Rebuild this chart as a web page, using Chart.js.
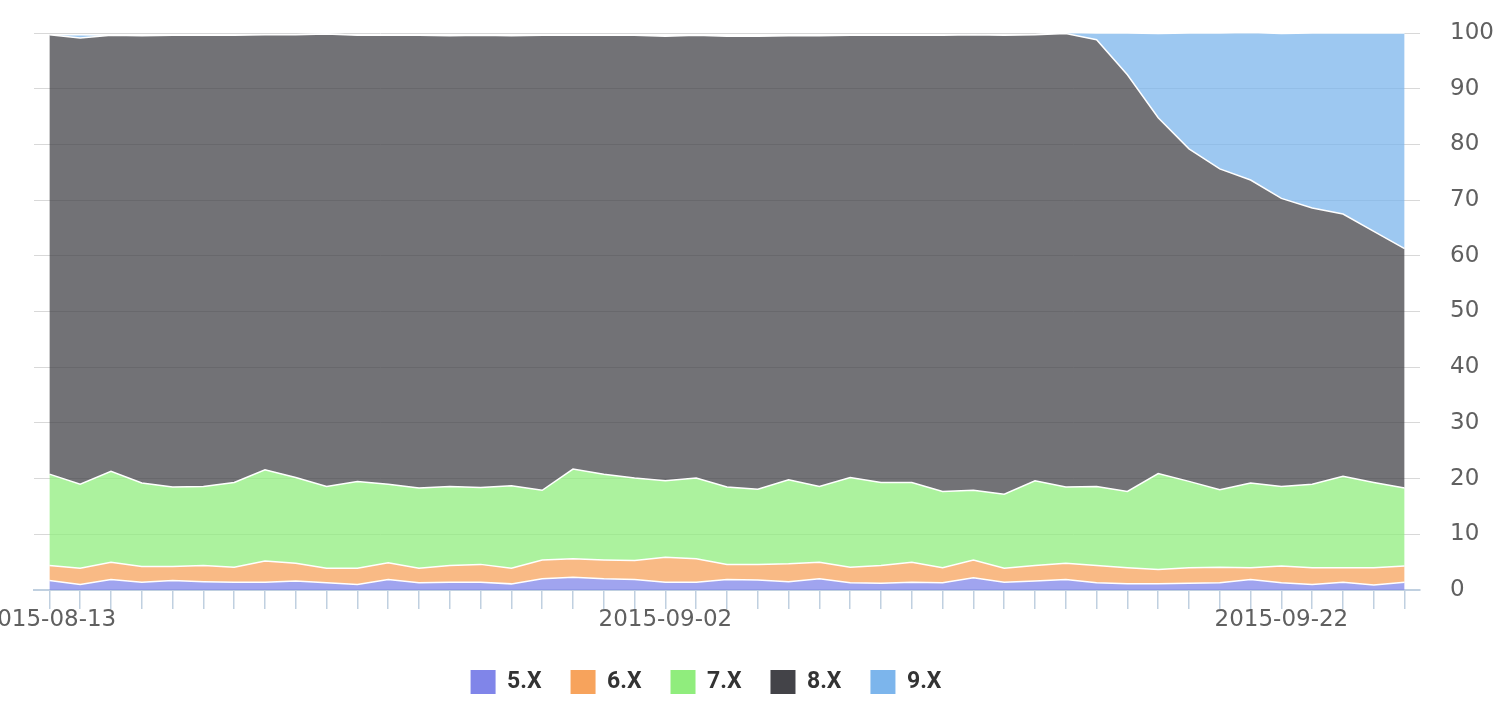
<!DOCTYPE html>
<html>
<head>
<meta charset="utf-8">
<script src="https://cdn.jsdelivr.net/npm/chart.js@4/dist/chart.umd.min.js"></script>
<style>
html,body{margin:0;padding:0;background:#ffffff;overflow:hidden;}
canvas{display:block;}
</style>
</head>
<body>
<canvas id="c" width="1508" height="708"></canvas>
<script>
// ---------- data ----------
const categories = [
  '2015-08-13','2015-08-14','2015-08-15','2015-08-16','2015-08-17','2015-08-18','2015-08-19','2015-08-20','2015-08-21','2015-08-22',
  '2015-08-23','2015-08-24','2015-08-25','2015-08-26','2015-08-27','2015-08-28','2015-08-29','2015-08-30','2015-08-31','2015-09-01',
  '2015-09-02','2015-09-03','2015-09-04','2015-09-05','2015-09-06','2015-09-07','2015-09-08','2015-09-09','2015-09-10','2015-09-11',
  '2015-09-12','2015-09-13','2015-09-14','2015-09-15','2015-09-16','2015-09-17','2015-09-18','2015-09-19','2015-09-20','2015-09-21',
  '2015-09-22','2015-09-23','2015-09-24','2015-09-25','2015-09-26'
];
const shownTickLabels = ['2015-08-13','2015-09-02','2015-09-22'];
const seriesNames = ['5.X','6.X','7.X','8.X','9.X'];

const v5x = [1.7,1.0,1.9,1.4,1.7,1.5,1.4,1.4,1.6,1.3, 1.0,1.9,1.3,1.4,1.4,1.1,2.0,2.3,2.0,1.9,
             1.4,1.4,1.9,1.8,1.5,2.0,1.3,1.2,1.4,1.3, 2.2,1.4,1.6,1.9,1.3,1.1,1.1,1.2,1.3,1.9,
             1.3,1.0,1.4,0.9,1.4];
const v6x = [2.7,2.9,3.1,2.8,2.5,2.9,2.7,3.8,3.2,2.6, 2.9,3.0,2.6,3.0,3.2,2.8,3.4,3.3,3.4,3.4,
             4.5,4.2,2.7,2.8,3.2,3.0,2.8,3.2,3.6,2.7, 3.2,2.5,2.8,2.9,3.1,2.9,2.6,2.8,2.8,2.1,
             3.0,3.0,2.6,3.1,2.9];
const v7x = [16.4,15.1,16.3,15.0,14.3,14.2,15.2,16.4,15.4,14.7, 15.6,14.1,14.4,14.2,13.8,14.8,12.5,16.1,15.4,14.8,
             13.7,14.5,13.9,13.5,15.1,13.6,16.1,14.9,14.3,13.7, 12.5,13.3,15.2,13.7,14.2,13.7,17.2,15.5,13.9,15.2,
             14.3,15.0,16.4,15.3,14.0];
const v8x = [78.9,80.1,78.3,80.3,81.1,81.0,80.3,78.1,79.5,81.2, 80.1,80.6,81.3,80.9,81.2,80.8,81.7,77.9,78.8,79.5,
             79.8,79.5,80.9,81.3,79.7,80.9,79.4,80.3,80.3,81.9, 81.8,82.4,80.1,81.4,80.2,74.8,63.9,59.7,57.6,54.4,
             51.7,49.6,47.1,45.1,43.0];
const v9x = [0,0.6,0,0,0,0,0,0,0,0, 0,0,0,0,0,0,0,0,0,0,
             0,0,0,0,0,0,0,0,0,0, 0,0,0,0.2,1.2,7.5,15.1,20.8,24.4,26.5,
             29.6,31.4,32.5,35.6,38.7];
const seriesValues = [v5x, v6x, v7x, v8x, v9x];

// ---------- styles ----------
const seriesColors = ['#8085e9','#f7a35c','#90ed7d','#434348','#7cb5ec'];
const fillColors = ['rgba(128,133,233,0.75)','rgba(247,163,92,0.75)','rgba(144,237,125,0.75)',
                    'rgba(67,67,72,0.75)','rgba(124,181,236,0.75)'];

const W = 1508, H = 708;
const PLOT_TOP = 33, PLOT_LEFT = 34, PLOT_RIGHT = 1420, PLOT_BOTTOM = 590;
const AXIS_FONT = "'DejaVu Sans', sans-serif";
const LEG_FONT = "Roboto, 'Liberation Sans', sans-serif";
const LEG_FONT_SIZE = 23, LEG_BOX_W = 25, LEG_BOX_H = 24;
const LEG_PAD = 29, LEG_BOX_TOP = 670, LEGEND_CENTER_X = 706;
const X_AXIS_H = LEG_BOX_TOP - LEG_PAD - PLOT_BOTTOM;
const LEG_H = Math.max(LEG_FONT_SIZE, LEG_BOX_H) + LEG_PAD + 10;
const PAD_BOTTOM = H - PLOT_BOTTOM - X_AXIS_H - LEG_H;

const datasets = seriesNames.map((name, i) => ({
  label: name,
  data: seriesValues[i],
  backgroundColor: fillColors[i],
  borderColor: '#ffffff',
  borderWidth: 1.5,
  fill: i === 0 ? 'origin' : '-1',
  pointRadius: 0,
  pointHoverRadius: 0,
  tension: 0
}));

const legendShift = {
  id: 'legendShift',
  afterLayout(chart) {
    const lg = chart.legend;
    if (!lg) return;
    const d = LEGEND_CENTER_X - (lg.left + lg.right) / 2;
    lg.left += d; lg.right += d;
  }
};

new Chart(document.getElementById('c'), {
  type: 'line',
  data: { labels: categories, datasets },
  plugins: [legendShift],
  options: {
    responsive: false,
    animation: false,
    layout: { padding: { top: PLOT_TOP, left: PLOT_LEFT, right: 0, bottom: PAD_BOTTOM } },
    plugins: {
      tooltip: { enabled: false },
      legend: {
        position: 'bottom',
        labels: {
          boxWidth: LEG_BOX_W,
          boxHeight: LEG_BOX_H,
          padding: LEG_PAD,
          color: '#333333',
          font: { family: LEG_FONT, size: LEG_FONT_SIZE, weight: 'bold' },
          generateLabels: (chart) => chart.data.datasets.map((ds, i) => ({
            text: ds.label,
            fillStyle: seriesColors[i],
            strokeStyle: seriesColors[i],
            lineWidth: 0,
            hidden: false,
            datasetIndex: i,
            fontColor: '#333333'
          }))
        }
      }
    },
    scales: {
      x: {
        type: 'category',
        offset: true,
        grid: { display: true, drawOnChartArea: false, drawTicks: true, tickLength: 19,
                color: '#C0D0E0', tickColor: '#C0D0E0', lineWidth: 1.5, offset: false },
        border: { display: true, color: '#C0D0E0', width: 2 },
        ticks: {
          autoSkip: false, maxRotation: 0, minRotation: 0, padding: 0,
          color: '#606060',
          font: { family: AXIS_FONT, size: 23, lineHeight: 1 },
          callback: function(value) {
            const lab = this.getLabelForValue(value);
            return shownTickLabels.includes(lab) ? lab : '';
          }
        },
        afterFit: (scale) => { scale.height = X_AXIS_H; scale.paddingLeft = 0; scale.paddingRight = 0; }
      },
      y: {
        position: 'right',
        stacked: true,
        min: 0, max: 100,
        grid: { color: '#D8D8D8', lineWidth: 1, drawTicks: false },
        border: { display: false },
        ticks: {
          stepSize: 10, padding: 30, color: '#606060',
          font: { family: AXIS_FONT, size: 23, lineHeight: 1 }
        },
        afterFit: (scale) => { scale.width = W - PLOT_RIGHT; scale.paddingTop = 0; scale.paddingBottom = 0; }
      }
    }
  }
});
</script>
</body>
</html>
